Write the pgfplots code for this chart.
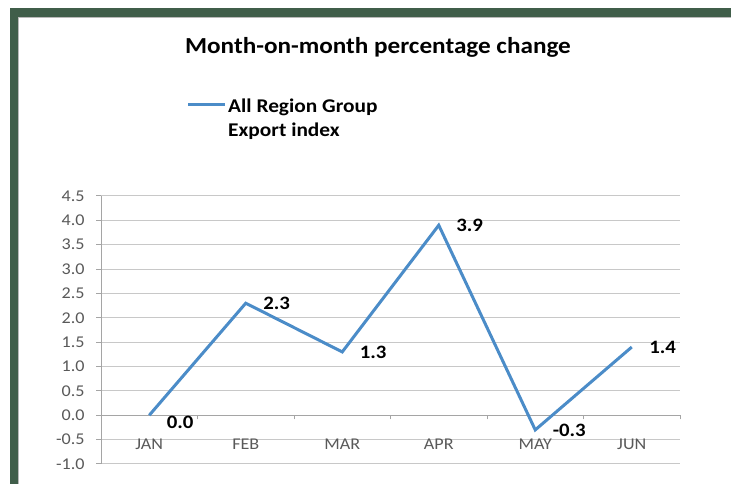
\documentclass[border=0pt]{standalone}
\usepackage{fontspec}
\setmainfont{Carlito}[FakeStretch=1.1]
\usepackage{pgfplots}
\pgfplotsset{compat=1.18}

\definecolor{framegreen}{RGB}{64,94,74}
\definecolor{series}{RGB}{75,140,200}
\definecolor{gridgray}{RGB}{200,200,200}
\definecolor{axisgray}{RGB}{165,165,165}
\definecolor{ticktext}{RGB}{89,89,89}

% month, value, label text, vertical shift of the label (bp)
\pgfplotstableread{
x y lab dy
0 0.0 0.0 -7
1 2.3 2.3 0
2 1.3 1.3 0
3 3.9 3.9 0
4 -0.3 -0.3 0
5 1.4 1.4 0
}\exportdata

\begin{document}
\begin{tikzpicture}[x=1bp,y=1bp]
\path[use as bounding box] (0,0) rectangle (731,484);
\fill[white] (0,0) rectangle (731,484);
% green frame, open at right and bottom
\fill[framegreen] (10,0) rectangle (18,476);
\fill[framegreen] (10,467) rectangle (731,476);
\draw[gray!55, line width=1bp] (18.5,0) -- (18.5,466.5) -- (731,466.5);

\node[anchor=base, font=\fontsize{23}{28}\selectfont\bfseries] at (378,430)
  {Month-on-month percentage change};

\begin{axis}[
  at={(101bp,20bp)}, anchor=south west,
  scale only axis, width=579bp, height=268bp,
  xmin=-0.5, xmax=5.5, ymin=-1, ymax=4.5,
  axis y line*=left, axis x line*=middle,
  axis line style={axisgray, line width=1bp},
  ytick={-1,-0.5,0,0.5,1,1.5,2,2.5,3,3.5,4,4.5},
  yticklabels={-1.0,-0.5,0.0,0.5,1.0,1.5,2.0,2.5,3.0,3.5,4.0,4.5},
  xtick={0,1,2,3,4,5},
  xticklabels={JAN,FEB,MAR,APR,MAY,JUN},
  x tick style={draw=none},
  y tick style={axisgray, line width=1bp},
  tick align=outside, major tick length=5bp,
  extra x ticks={0.5,1.5,2.5,3.5,4.5,5.5},
  extra x tick labels={},
  extra x tick style={x tick style={draw=axisgray, line width=1bp}, major tick length=4bp},
  ymajorgrids, grid style={gridgray, line width=1bp},
  ticklabel style={font=\fontsize{16.5}{19}\selectfont, text=ticktext},
  x tick label style={yshift=-15bp},
  y tick label style={xshift=-8bp},
  clip=false,
  legend style={at={(axis description cs:0.1477,1.3806)}, anchor=north west,
    draw=none, fill=none, inner sep=0pt,
    nodes={inner sep=1.5bp},
    font=\fontsize{19.5}{24}\selectfont\bfseries},
  legend cell align=left,
  legend image code/.code={\draw[#1, line width=3bp] (0bp,0bp) -- (37bp,0bp);},
]
\addplot[series, line width=3bp, mark=none,
  nodes near coords, point meta=explicit symbolic,
  visualization depends on={\thisrow{dy} \as \dy},
  every node near coord/.append style={anchor=west, xshift=16bp, yshift=\dy bp,
    font=\fontsize{19}{23}\selectfont\bfseries, text=black, inner sep=0pt}]
  table[x=x, y=y, meta=lab] {\exportdata};
\addlegendentry{\begin{tabular}[t]{@{}l@{}}All Region Group\\Export index\end{tabular}}
\end{axis}
\end{tikzpicture}
\end{document}
